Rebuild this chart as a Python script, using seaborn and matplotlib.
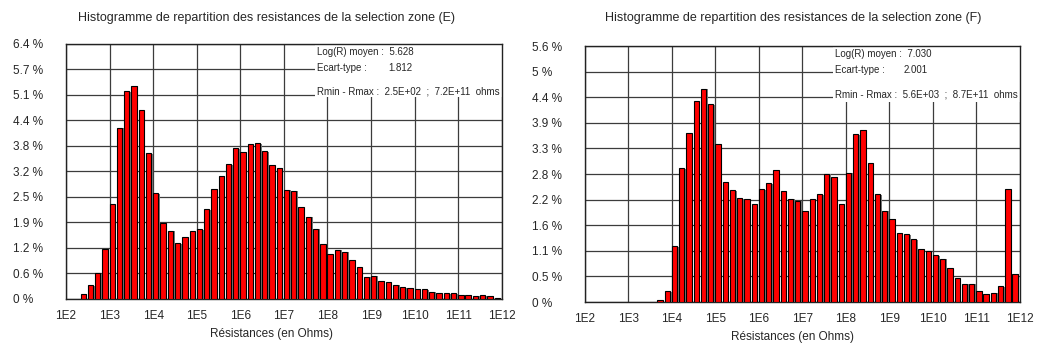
"""Two resistance histograms (zones E and F), log10 bins, seaborn bars."""

import matplotlib

matplotlib.use("Agg")

import matplotlib.patheffects as pe
import matplotlib.pyplot as plt
import numpy as np
import pandas as pd
import seaborn as sns
from matplotlib.patches import Rectangle

# histogram bins: 6 per decade from 1E2 to 1E12
decade_first, decade_last, bins_per_decade = 2, 12, 6
decade_labels = ["1E2", "1E3", "1E4", "1E5", "1E6", "1E7", "1E8", "1E9", "1E10", "1E11", "1E12"]

# zone E, percentage per bin
pct_e = [
    0, 0, 0.13, 0.34, 0.65, 1.26, 2.38, 4.30, 5.21, 5.35,
    4.74, 3.66, 2.66, 1.91, 1.71, 1.40, 1.55, 1.70, 1.75, 2.26,
    2.75, 3.09, 3.38, 3.78, 3.68, 3.89, 3.91, 3.71, 3.36, 3.29,
    2.74, 2.72, 2.31, 2.06, 1.76, 1.37, 1.12, 1.24, 1.19, 0.99,
    0.80, 0.56, 0.58, 0.46, 0.42, 0.36, 0.29, 0.28, 0.26, 0.25,
    0.18, 0.15, 0.14, 0.14, 0.09, 0.09, 0.08, 0.09, 0.07, 0.03,
]
# zone F, percentage per bin
pct_f = [
    0, 0, 0, 0, 0, 0, 0, 0, 0, 0,
    0.04, 0.24, 1.22, 2.93, 3.69, 4.39, 4.67, 4.33, 3.45, 2.63,
    2.45, 2.27, 2.25, 2.14, 2.47, 2.60, 2.89, 2.43, 2.26, 2.22,
    2.00, 2.25, 2.36, 2.81, 2.74, 2.14, 2.83, 3.67, 3.77, 3.04,
    2.36, 2.00, 1.82, 1.52, 1.48, 1.38, 1.16, 1.12, 1.03, 0.95,
    0.74, 0.52, 0.40, 0.40, 0.25, 0.18, 0.20, 0.34, 2.47, 0.62,
]

ytick_labels_e = ["0 %", "0.6 %", "1.2 %", "1.9 %", "2.5 %", "3.2 %", "3.8 %", "4.4 %", "5.1 %", "5.7 %", "6.4 %"]
ytick_labels_f = ["0 %", "0.5 %", "1.1 %", "1.6 %", "2.2 %", "2.8 %", "3.3 %", "3.9 %", "4.4 %", "5 %", "5.6 %"]
ymax_e, ymax_f = 6.4, 5.6

titles = [
    "Histogramme de repartition des resistances de la selection zone (E)",
    "Histogramme de repartition des resistances de la selection zone (F)",
]
stats_e = ["Log(R) moyen :  5.628", "Ecart-type :", "1.812", "Rmin - Rmax :  2.5E+02  ;  7.2E+11  ohms"]
stats_f = ["Log(R) moyen :  7.030", "Ecart-type :", "2.001", "Rmin - Rmax :  5.6E+03  ;  8.7E+11  ohms"]
xlabel = "Résistances (en Ohms)"

sns.set_theme(style="white")
plt.rcParams["font.family"] = ["Liberation Sans", "DejaVu Sans"]

BAR_FRAC = 0.73
GRID = "#3c3c3c"
TICK_FS = 8.5
STAT_FS = 7


def draw_panel(fig, rect, pct, ymax, ylabels, stats, box):
    ax = fig.add_axes(rect)
    n_bins = (decade_last - decade_first) * bins_per_decade
    lower = decade_first + np.arange(n_bins) / bins_per_decade
    df = pd.DataFrame({"x": lower + BAR_FRAC / bins_per_decade / 2, "pct": pct})
    df = df[df["pct"] > 0]
    sns.barplot(
        data=df, x="x", y="pct", native_scale=True, width=BAR_FRAC,
        color="#ff0000", saturation=1, edgecolor="black", linewidth=0.8,
        errorbar=None, ax=ax, zorder=3,
    )
    for patch in ax.patches:
        patch.set_path_effects(
            [pe.SimplePatchShadow(offset=(1.1, -0.4), shadow_rgbFace="#7a7a7a", alpha=1), pe.Normal()]
        )

    ax.set_xlim(decade_first, decade_last)
    ax.set_ylim(0, ymax)
    ax.set_xticks(range(decade_first, decade_last + 1))
    ax.set_xticklabels(decade_labels, fontsize=TICK_FS)
    ax.set_yticks(np.linspace(0, ymax, len(ylabels)))
    ax.set_yticklabels(ylabels, fontsize=TICK_FS)
    for lab in ax.get_yticklabels():
        lab.set_horizontalalignment("left")
    ax.tick_params(axis="y", pad=38, length=0)
    ax.tick_params(axis="x", pad=8, length=0)
    ax.set_xlabel("")
    ax.set_ylabel("")
    ax.grid(True, color=GRID, linewidth=0.9)
    ax.set_axisbelow(True)
    for sp in ax.spines.values():
        sp.set_color("#222222")
        sp.set_linewidth(1)

    # white stats block covering the grid in the upper right
    ax.add_patch(Rectangle((box[0], box[1]), 1 - box[0], 1 - box[1], transform=ax.transAxes,
                           facecolor="white", edgecolor="none", zorder=1))
    tx = box[0] + 0.006
    ax.text(tx, 0.969, stats[0], transform=ax.transAxes, fontsize=STAT_FS, va="center", zorder=4)
    ax.text(tx, 0.905, stats[1], transform=ax.transAxes, fontsize=STAT_FS, va="center", zorder=4)
    ax.text(box[2], 0.905, stats[2], transform=ax.transAxes, fontsize=STAT_FS, va="center", zorder=4)
    ax.text(tx, 0.812, stats[3], transform=ax.transAxes, fontsize=STAT_FS, va="center", zorder=4)
    return ax


fig = plt.figure(figsize=(10.4, 3.52), dpi=100)
draw_panel(fig, [0.0635, 0.1506, 0.419, 0.7244], pct_e, ymax_e, ytick_labels_e, stats_e, (0.571, 0.792, 0.739))
draw_panel(fig, [0.5625, 0.142, 0.418, 0.727], pct_f, ymax_f, ytick_labels_f, stats_f, (0.570, 0.781, 0.733))

fig.text(0.256, 0.949, titles[0], ha="center", va="center", fontsize=9)
fig.text(0.7625, 0.949, titles[1], ha="center", va="center", fontsize=9)
fig.text(0.2615, 0.051, xlabel, ha="center", va="center", fontsize=TICK_FS)
fig.text(0.762, 0.043, xlabel, ha="center", va="center", fontsize=TICK_FS)

fig.savefig("out.png", dpi=100, facecolor="white")
plt.close(fig)
